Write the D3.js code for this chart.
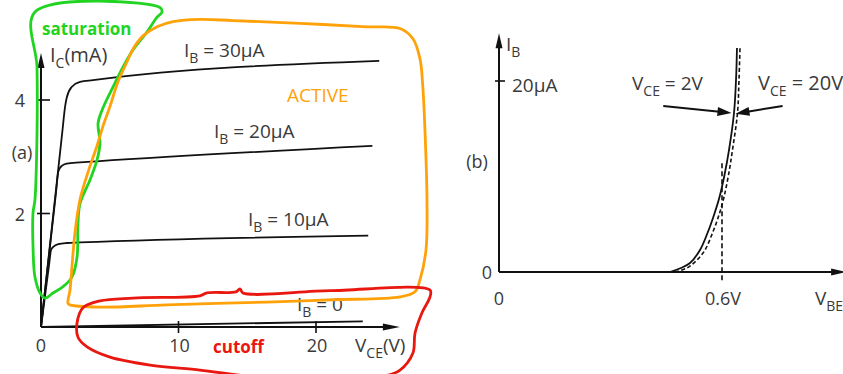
<!DOCTYPE html>
<html>
<head>
<meta charset="utf-8">
<script src="https://cdn.jsdelivr.net/npm/d3@7"></script>
<style>
  body { margin: 0; background: #fff; }
  svg { display: block; }
  text { font-family: "Open Sans", sans-serif; fill: #3a3a3a; }
</style>
</head>
<body>
<svg id="fig" width="843" height="374"></svg>
<script>
// ---------- (a) collector characteristics: IC (mA) vs VCE (V) ----------
const ibLevels = [30, 20, 10, 0];            // base current of each curve, µA
const vceIb30 = [0, 1.55, 1.75, 1.87, 2.23, 2.84, 3.78, 24.6];
const icIb30  = [0, 3.44, 3.88, 4.04, 4.23, 4.32, 4.35, 4.69];
const vceIb20 = [0, 1.10, 1.26, 1.51, 1.87, 2.84, 4.05, 24.1];
const icIb20  = [0, 2.39, 2.74, 2.84, 2.88, 2.90, 2.92, 3.19];
const vceIb10 = [0, 0.60, 0.73, 0.89, 1.26, 1.87, 2.84, 23.8];
const icIb10  = [0, 1.12, 1.36, 1.41, 1.46, 1.48, 1.49, 1.61];
const vceIb0  = [0, 23.4];
const icIb0   = [0, 0.10];
const xTicksA = [10, 20];
const yTicksA = [2, 4];

// hand-drawn region outlines, in (VCE, IC) units
const satLoopV = [-0.44, 8.65, 8.80, 8.44, 7.71, 6.69, 5.96, 5.24, 4.44, 4.15, 4.29, 4.07, 3.56, 2.84, 2.69, 2.62, 2.25, 1.60, 0.87, 0.29, -0.07, -0.44, -0.58, -0.58, -0.44, -0.29, -0.29];
const satLoopI = [5.55, 5.63, 5.55, 5.46, 5.20, 4.88, 4.58, 4.23, 3.82, 3.59, 3.24, 2.94, 2.59, 2.18, 1.83, 1.23, 0.88, 0.71, 0.60, 0.51, 0.60, 0.88, 1.41, 2.01, 2.24, 3.41, 4.58];
const actLoopV = [1.96, 2.11, 2.25, 2.47, 2.84, 3.42, 4.07, 4.51, 5.02, 5.60, 6.25, 6.69, 7.42, 8.44, 9.60, 11.56, 13.96, 18.84, 23.71, 26.11, 27.05, 27.56, 27.78, 27.93, 28.07, 28.0, 27.56, 27.2, 26.11, 21.24, 16.44, 9.16, 4.29, 2.11];
const actLoopI = [0.42, 0.65, 1.06, 1.66, 2.25, 2.73, 3.19, 3.54, 3.89, 4.32, 4.67, 4.90, 5.13, 5.29, 5.38, 5.42, 5.40, 5.35, 5.29, 5.26, 5.08, 4.73, 4.19, 3.43, 2.25, 1.36, 0.83, 0.62, 0.53, 0.48, 0.44, 0.39, 0.35, 0.39];
const cutLoopV = [28.29, 21.02, 14.69, 14.47, 14.18, 12.07, 11.56, 6.69, 4.29, 3.05, 2.62, 2.69, 3.35, 5.02, 7.93, 11.56, 15.2, 20.29, 24.87, 26.11, 27.05, 27.2, 27.71, 28.29];
const cutLoopI = [0.65, 0.64, 0.60, 0.67, 0.62, 0.60, 0.55, 0.51, 0.46, 0.34, 0.07, -0.18, -0.35, -0.53, -0.67, -0.76, -0.87, -0.94, -0.87, -0.76, -0.46, -0.11, 0.25, 0.53];

// ---------- (b) input characteristics: IB (µA) vs VBE (V) ----------
const vceLevels = [2, 20];                   // VCE of each curve, V
const ibB     = [0, 0.42, 0.94, 2.30, 4.08, 5.97, 7.85, 10.16, 12.77, 16.65, 20.1, 23.46];
const vbeAt2  = [0.4601, 0.4897, 0.5139, 0.5408, 0.5610, 0.5785, 0.5933, 0.6067, 0.6188, 0.6323, 0.6377, 0.6403];
const ibB20   = [0, 0.42, 1.26, 2.30, 4.08, 5.97, 7.85, 10.16, 12.77, 16.65, 20.1, 23.46];
const vbeAt20 = [0.4735, 0.5058, 0.5327, 0.5542, 0.5744, 0.5919, 0.6054, 0.6175, 0.6282, 0.6417, 0.6457, 0.6484];
const yTickB = 20;
const vbeOn = 0.6;

const INK = "#111";
const GREEN = "#22d422", ORANGE = "#ffa20a", RED = "#e8170f";

const svg = d3.select("#fig");
svg.append("rect").attr("width", 843).attr("height", 374).attr("fill", "#fff");

const zip = (xs, ys) => xs.map((x, i) => [x, ys[i]]);

// filled arrowhead at (x2,y2) pointing along the segment, shaft stops at the head base
function arrow(g, x1, y1, x2, y2, len, half, width) {
  const a = Math.atan2(y2 - y1, x2 - x1);
  const bx = x2 - len * Math.cos(a), by = y2 - len * Math.sin(a);
  g.append("line").attr("x1", x1).attr("y1", y1).attr("x2", bx + 2 * Math.cos(a)).attr("y2", by + 2 * Math.sin(a))
    .attr("stroke", INK).attr("stroke-width", width);
  const nx = -Math.sin(a) * half, ny = Math.cos(a) * half;
  g.append("path")
    .attr("d", `M${x2},${y2}L${bx + nx},${by + ny}L${bx - nx},${by - ny}Z`)
    .attr("fill", INK);
}

// text with optional subscript parts: [["I"], ["C", true], ["(mA)"]]
function label(g, x, y, parts, size, opts = {}) {
  const sub = Math.round(size * 0.72), shift = Math.round(size * 0.3);
  const t = g.append("text").attr("x", x).attr("y", y).attr("font-size", size)
    .attr("text-anchor", opts.anchor || "start");
  if (opts.fill) t.style("fill", opts.fill);
  if (opts.weight) t.attr("font-weight", opts.weight);
  let low = false;
  parts.forEach(([s, isSub]) => {
    const sp = t.append("tspan").text(s);
    if (isSub && !low) { sp.attr("dy", shift).attr("font-size", sub); low = true; }
    else if (!isSub && low) { sp.attr("dy", -shift); low = false; }
    else if (isSub) sp.attr("font-size", sub);
  });
  return t;
}

// ===== panel (a) =====
const xA = d3.scaleLinear().domain([0, 20]).range([41, 316]);
const yA = d3.scaleLinear().domain([0, 4]).range([327, 100]);
const gA = svg.append("g");

const lineA = d3.line().x(d => xA(d[0])).y(d => yA(d[1])).curve(d3.curveMonotoneX);
const curvesA = [zip(vceIb30, icIb30), zip(vceIb20, icIb20), zip(vceIb10, icIb10), zip(vceIb0, icIb0)];
gA.selectAll("path.ic").data(curvesA).join("path").attr("class", "ic")
  .attr("d", lineA).attr("fill", "none").attr("stroke", INK).attr("stroke-width", 1.8);

// axes
arrow(gA, xA(0), yA(0), xA(0), yA(4.83), 15, 3.5, 2);
arrow(gA, xA(0), yA(0), xA(26.1), yA(0), 17, 3.5, 2);
gA.selectAll("line.yt").data(yTicksA).join("line").attr("class", "yt")
  .attr("x1", xA(0) - 4).attr("x2", xA(0) + 9).attr("y1", d => yA(d)).attr("y2", d => yA(d))
  .attr("stroke", INK).attr("stroke-width", 1.6);
gA.selectAll("line.xt").data(xTicksA).join("line").attr("class", "xt")
  .attr("x1", d => xA(d)).attr("x2", d => xA(d)).attr("y1", yA(0) - 6).attr("y2", yA(0) + 6)
  .attr("stroke", INK).attr("stroke-width", 1.6);
gA.selectAll("text.yl").data(yTicksA).join("text").attr("class", "yl")
  .attr("x", 20).attr("y", d => yA(d) + 7).attr("text-anchor", "middle").attr("font-size", 18).text(d => d);
gA.selectAll("text.xl").data([0].concat(xTicksA)).join("text").attr("class", "xl")
  .attr("x", d => xA(d) + (d ? 1 : 0)).attr("y", 352).attr("text-anchor", "middle").attr("font-size", 18).text(d => d);

label(gA, 50, 62, [["I"], ["C", true], ["(mA)"]], 20);
label(gA, 355, 352, [["V"], ["CE", true], ["(V)"]], 19);
label(gA, 22, 159, [["(a)"]], 18, { anchor: "middle" });

// curve labels
const ibLabelPos = [[184, 57], [214, 138], [248, 226], [297, 311]];
ibLevels.forEach((ib, i) => {
  const txt = ib === 0 ? " = 0" : ` = ${ib}µA`;
  label(gA, ibLabelPos[i][0], ibLabelPos[i][1], [["I"], ["B", true], [txt]], 19);
});

// region outlines
const loop = d3.line().x(d => xA(d[0])).y(d => yA(d[1])).curve(d3.curveCatmullRomClosed.alpha(0.5));
gA.append("path").attr("d", loop(zip(satLoopV, satLoopI))).attr("fill", "none").attr("stroke", GREEN).attr("stroke-width", 2.8);
gA.append("path").attr("d", loop(zip(actLoopV, actLoopI))).attr("fill", "none").attr("stroke", ORANGE).attr("stroke-width", 2.8);
gA.append("path").attr("d", loop(zip(cutLoopV, cutLoopI))).attr("fill", "none").attr("stroke", RED).attr("stroke-width", 2.8);

label(gA, 42, 35, [["saturation"]], 17, { fill: GREEN, weight: 700 });
label(gA, 287, 102, [["ACTIVE"]], 19, { fill: ORANGE });
label(gA, 213, 353, [["cutoff"]], 17, { fill: RED, weight: 700 });

// ===== panel (b) =====
const xB = d3.scaleLinear().domain([0, 0.6]).range([499, 722]);
const yB = d3.scaleLinear().domain([0, 20]).range([272, 81]);
const gB = svg.append("g");

arrow(gB, xB(0), yB(0), xB(0), yB(25), 15, 3.5, 2);
arrow(gB, xB(0), yB(0), xB(0.934), yB(0), 15, 3.5, 2);
gB.append("line").attr("x1", xB(0) - 4).attr("x2", xB(0) + 6).attr("y1", yB(yTickB)).attr("y2", yB(yTickB))
  .attr("stroke", INK).attr("stroke-width", 1.6);
gB.append("line").attr("x1", xB(vbeOn)).attr("x2", xB(vbeOn)).attr("y1", yB(11.4)).attr("y2", yB(-1.05))
  .attr("stroke", INK).attr("stroke-width", 1.6).attr("stroke-dasharray", "5,3");

const lineB = d3.line().x(d => xB(d[0])).y(d => yB(d[1])).curve(d3.curveCatmullRom.alpha(0.5));
gB.append("path").attr("d", lineB(zip(vbeAt2, ibB))).attr("fill", "none").attr("stroke", INK).attr("stroke-width", 1.8);
gB.append("path").attr("d", lineB(zip(vbeAt20, ibB20))).attr("fill", "none").attr("stroke", INK)
  .attr("stroke-width", 1.6).attr("stroke-dasharray", "4,2.5");

// pointers to each curve
arrow(gB, xB(0.442), yB(17.38), xB(0.6255), yB(16.65), 14, 4.5, 2);
arrow(gB, xB(0.763), yB(17.38), xB(0.6363), yB(16.58), 14, 4.5, 2);

label(gB, 506, 51, [["I"], ["B", true]], 19);
label(gB, 512, 92, [[`${yTickB}µA`]], 19);
label(gB, 487, 279, [["0"]], 18, { anchor: "middle" });
label(gB, xB(0), 305, [["0"]], 18, { anchor: "middle" });
label(gB, 705, 305, [[`${vbeOn}V`]], 18);
label(gB, 815, 305, [["V"], ["BE", true]], 19);
label(gB, 477, 168, [["(b)"]], 18, { anchor: "middle" });
label(gB, 632, 90, [["V"], ["CE", true], [` = ${vceLevels[0]}V`]], 19);
label(gB, 758, 90, [["V"], ["CE", true], [` = ${vceLevels[1]}V`]], 20);
</script>
</body>
</html>
